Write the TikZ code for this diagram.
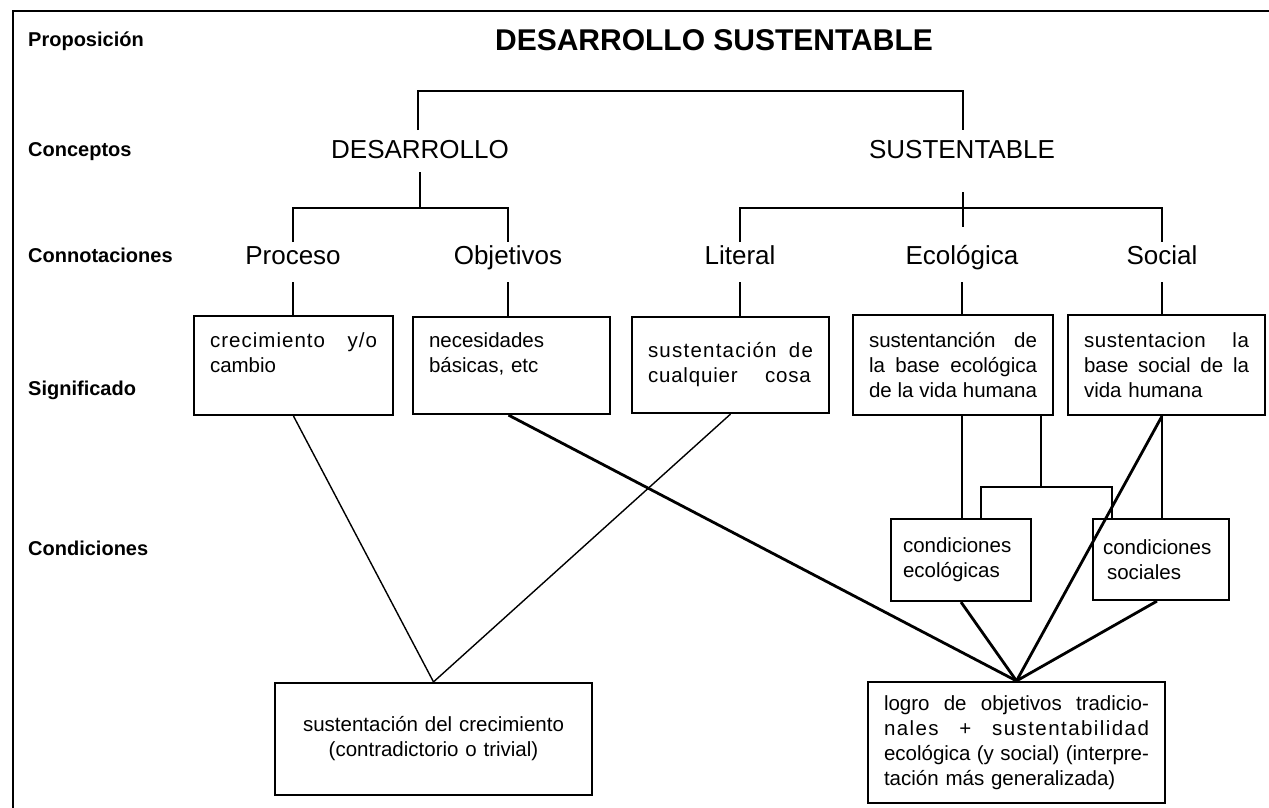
\documentclass[tikz,border=0pt]{standalone}
\usepackage{fontspec}
\setmainfont{Liberation Sans}
\newcommand{\jl}[2]{\makebox[#1][s]{\spaceskip=0.28em plus 1fil\relax #2}}
\newcommand{\lsp}[1]{\addfontfeature{LetterSpace=#1}}
\begin{document}
\begin{tikzpicture}[x=1pt,y=-1pt,
  lbl/.style={font=\bfseries\fontsize{20}{24}\selectfont, anchor=base west, inner sep=0pt},
  con/.style={font=\fontsize{26}{30}\selectfont, inner sep=0pt, anchor=base},
  sbox/.style={draw, line width=2.2pt, inner xsep=16pt, inner ysep=0pt, align=left,
               font=\fontsize{20.5}{25}\selectfont},
  thinln/.style={line width=1.4pt},
  midln/.style={line width=2.2pt},
  heavyln/.style={line width=2.8pt},
  frame/.style={line width=2pt}]
\useasboundingbox (0,0) rectangle (1269,808);
% frame
\coordinate (fbl) at (13,808);
\coordinate (ftl) at (13,11);
\coordinate (ftr) at (1269,11);
\draw[frame] (fbl) -- (ftl) -- (ftr);

% row labels
\node[lbl] (lprop) at (28,47) {Proposición};
\node[lbl] (lconc) at (28,156) {Conceptos};
\node[lbl] (lconn) at (28,262) {Connotaciones};
\node[lbl] (lsig) at (28,395) {Significado};
\node[lbl] (lcond) at (28,555) {Condiciones};

% title and concepts
\node[font=\bfseries\fontsize{30}{34}\selectfont, inner sep=0pt, anchor=base] (title) at (714,51) {DESARROLLO SUSTENTABLE};
\node[con] (des) at (420,158) {DESARROLLO};
\node[con] (sus) at (962,158) {SUSTENTABLE};

% connotations
\node[con] (proc) at (293,264) {Proceso};
\node[con] (obj) at (508,264) {Objetivos};
\node[con] (lit) at (740,264) {Literal};
\node[con] (eco) at (962,264) {Ecológica};
\node[con] (soc) at (1162,264) {Social};

% meaning boxes
\node[sbox, text width=167pt, minimum height=99pt] (b1) at (293.5,365.5)
  {\jl{167pt}{\lsp{5}crecimiento y/o}\\cambio\\\mbox{}};
\node[sbox, text width=165pt, minimum height=97pt] (b2) at (511.5,365.5)
  {necesidades\\básicas, etc\\\mbox{}};
\node[sbox, text width=165pt, minimum height=96pt] (b3) at (730.5,365)
  {\jl{165pt}{\lsp{6}sustentación de}\\{\lsp{4}cualquier\quad\ cosa}};
\node[sbox, text width=168pt, minimum height=100pt] (b4) at (953,365)
  {\jl{168pt}{sustentanción de}\\\jl{168pt}{la base ecológica}\\\jl{168pt}{de la vida humana}};
\node[sbox, text width=165pt, minimum height=100pt] (b5) at (1166.5,365)
  {\jl{165pt}{\lsp{3}sustentacion la}\\\jl{165pt}{base social de la}\\vida humana};

% condition boxes
\node[sbox, inner xsep=12pt, text width=116pt, minimum height=82pt] (c1) at (961,560)
  {condiciones\\ecológicas};
\node[sbox, inner xsep=10pt, text width=116pt, minimum height=81pt] (c2) at (1161,559.5)
  {condiciones\\\hspace*{4pt}sociales};

% result boxes
\node[sbox, align=center, text width=285pt, minimum height=112pt] (d1) at (433.5,739)
  {sustentación del crecimiento\\(contradictorio o trivial)};
\node[sbox, text width=265pt, minimum height=121pt] (d2) at (1016.5,742.5)
  {\jl{265pt}{logro de objetivos tradicio-}\\\jl{265pt}{\lsp{7}nales + sustentabilidad}\\\jl{265pt}{ecológica (y social) (interpre-}\\tación más generalizada)};

% top bracket
\coordinate (tb1) at (418,130);
\coordinate (tb2) at (418,91);
\coordinate (tb3) at (963,91);
\coordinate (tb4) at (963,130);
\draw[midln] (tb1) -- (tb2) -- (tb3) -- (tb4);

% DESARROLLO bracket
\coordinate (d0) at (420,172);
\coordinate (dj) at (420,208);
\coordinate (dl) at (293,208);
\coordinate (dr) at (508,208);
\draw[midln] (d0) -- (dj);
\draw[midln] (proc |- 0,242) -- (dl) -- (dr) -- (obj |- 0,242);

% SUSTENTABLE bracket
\coordinate (s0) at (963,192);
\coordinate (s1) at (963,227);
\coordinate (sl) at (740,208);
\coordinate (sr) at (1162,208);
\draw[midln] (s0) -- (s1);
\draw[midln] (lit |- 0,242) -- (sl) -- (sr) -- (soc |- 0,242);

% connotation -> meaning
\draw[midln] (proc |- 0,282) -- (proc |- b1.north);
\draw[midln] (obj |- 0,282) -- (obj |- b2.north);
\draw[midln] (lit |- 0,282) -- (lit |- b3.north);
\draw[midln] (eco |- 0,282) -- (eco |- b4.north);
\draw[midln] (soc |- 0,282) -- (soc |- b5.north);

% meaning -> conditions
\draw[midln] (eco |- b4.south) -- (eco |- c1.north);
\draw[midln] (soc |- b5.south) -- (soc |- c2.north);
\coordinate (t0) at (1041,487);
\coordinate (tl) at (981,487);
\coordinate (tr) at (1112,487);
\draw[thinln] (t0 |- b4.south) -- (t0);
\draw[thinln] (tl |- c1.north) -- (tl) -- (tr) -- (tr |- c2.north);

% to results
\draw[thinln] (b1.south) -- (d1.north);
\draw[thinln] (b3.south) -- (d1.north);
\draw[heavyln] ([xshift=-3pt]b2.south) -- (d2.north);
\draw[heavyln] (soc |- b5.south) -- (d2.north);
\draw[heavyln] (c1.south) -- (d2.north);
\draw[heavyln] ([xshift=-4pt]c2.south) -- (d2.north);
\end{tikzpicture}
\end{document}
